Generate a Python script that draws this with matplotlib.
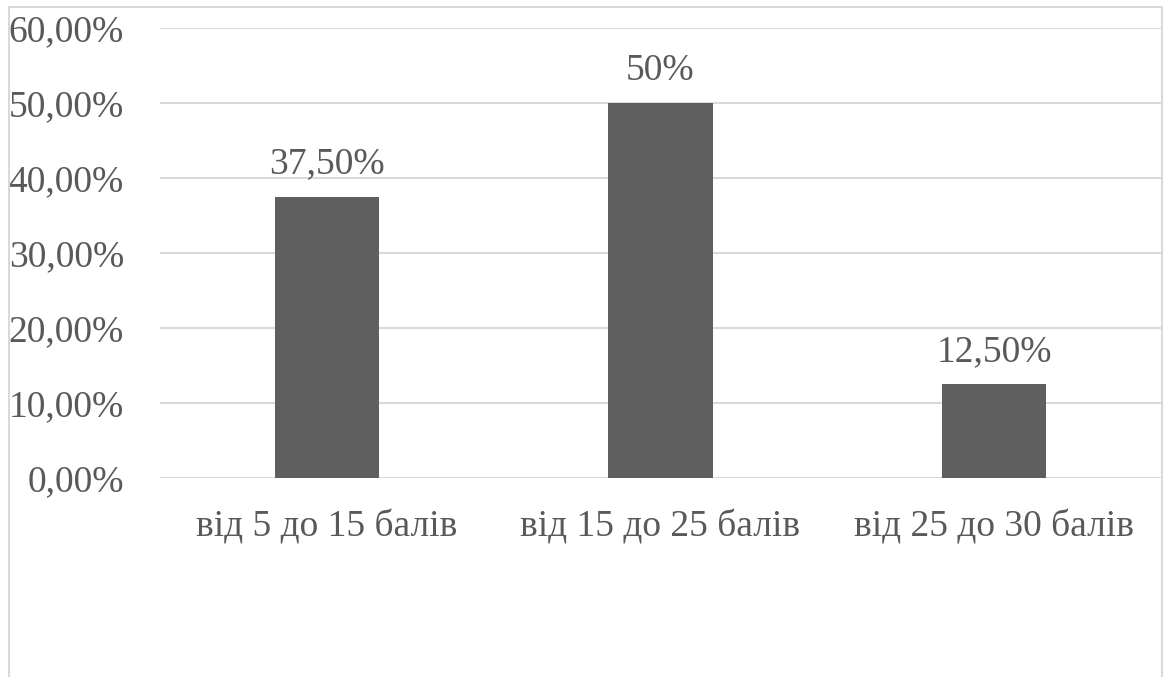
import matplotlib
matplotlib.use("Agg")
import matplotlib.pyplot as plt
from matplotlib.patches import Rectangle
from matplotlib.ticker import FuncFormatter

categories = ["від 5 до 15 балів", "від 15 до 25 балів", "від 25 до 30 балів"]
values = [37.5, 50.0, 12.5]
value_labels = ["37,50%", "50%", "12,50%"]

plt.rcParams["font.family"] = ["Liberation Serif", "DejaVu Serif"]
text_color = "#595959"
bar_color = "#5f5f5f"
grid_color = "#d9d9d9"

fig = plt.figure(figsize=(11.65, 6.77), dpi=100)
ax = fig.add_axes([160 / 1165, 1 - 478 / 677, 1001 / 1165, 450 / 677])

# outer chart border
fig.patches.append(Rectangle((9 / 1165, -0.05), 1153 / 1165, 1.05 - 7 / 677,
                             transform=fig.transFigure, fill=False,
                             edgecolor=grid_color, linewidth=1.5))

x = range(len(categories))
bars = ax.bar(x, values, width=0.312, color=bar_color, zorder=3)
ax.set_xlim(-0.5, len(categories) - 0.5)
ax.set_ylim(0, 60)
ax.set_yticks(range(0, 61, 10))
ax.yaxis.set_major_formatter(FuncFormatter(lambda v, p: f"{v:.2f}%".replace(".", ",")))
ax.set_xticks(list(x))
ax.set_xticklabels(categories)
ax.tick_params(axis="both", length=0, labelsize=27, colors=text_color)
ax.tick_params(axis="y", pad=26)
ax.tick_params(axis="x", pad=23)
ax.grid(axis="y", color=grid_color, linewidth=1.5, zorder=0)
for s in ax.spines.values():
    s.set_visible(False)

for b, lab in zip(bars, value_labels):
    ax.annotate(lab, (b.get_x() + b.get_width() / 2, b.get_height()),
                xytext=(0, 11), textcoords="offset points",
                ha="center", va="bottom", fontsize=27, color=text_color)

fig.savefig("out.png", dpi=100)
